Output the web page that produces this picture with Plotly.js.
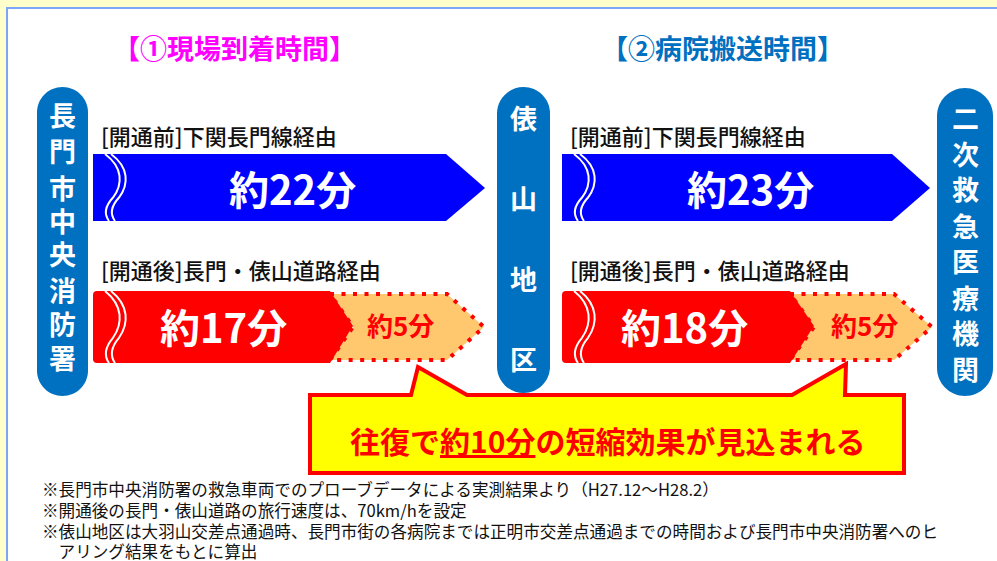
<!DOCTYPE html>
<html>
<head>
<meta charset="utf-8">
<script src="https://cdn.plot.ly/plotly-3.0.1.min.js"></script>
<style>html,body{margin:0;padding:0;background:#FFFFCC;}#chart{width:997px;height:561px;}</style>
</head>
<body>
<div id="chart"></div>
<script>
// ---- data ----
const sectionTitles = ['【①現場到着時間】', '【②病院搬送時間】'];
const routeBefore = '[開通前]下関長門線経由';
const routeAfter = '[開通後]長門・俵山道路経由';
const timeBefore = [22, 23];
const timeAfter = [17, 18];
const timeSaved = [5, 5];
const nodeNames = ['長門市中央消防署', '俵山地区', '二次救急医療機関'];
const summaryPre = '往復で';
const summaryKey = '約10分';
const summaryPost = 'の短縮効果が見込まれる';
const notes = [
  '※長門市中央消防署の救急車両でのプローブデータによる実測結果より（H27.12～H28.2）',
  '※開通後の長門・俵山道路の旅行速度は、70km/hを設定',
  '※俵山地区は大羽山交差点通過時、長門市街の各病院までは正明市交差点通過までの時間および長門市中央消防署へのヒ',
  '　アリング結果をもとに算出'
];

// ---- layout geometry (pixel-like axis units) ----
const FONT = '"Noto Sans CJK JP", "Noto Sans", sans-serif';
const titleColors = ['#FF00FF', '#0070C0'];
const titleX = [234, 722];
const secX0 = [93, 562];
const blueEnd = [446, 892], blueTip = [485, 930];
const redEnd = [330, 790], redTip = [353, 814];
const orgEnd = [447, 894], orgTip = [484, 932];
const beforeTxtX = [292, 750], afterTxtX = [223, 684], savedTxtX = [400, 864];
const pills = [
  {x0: 37, x1: 88, y0: 87, y1: 396, cy: [114, 150, 187, 220, 253, 289, 323, 357]},
  {x0: 497, x1: 550, y0: 87, y1: 393, cy: [117, 197, 278, 358]},
  {x0: 937, x1: 993, y0: 88, y1: 396, cy: [117, 153, 188, 225, 260, 297, 332, 368]}
];

const shapes = [];
const ann = [];

// panel
shapes.push({type: 'rect', xref: 'x', yref: 'y', x0: 7, y0: 8, x1: 1010, y1: 580,
  fillcolor: '#FFFFFF', line: {color: '#7EA6F8', width: 2}, layer: 'below'});

function pillPath(x0, x1, y0, y1) {
  const r = (x1 - x0) / 2, k = 0.5523 * r, cx = (x0 + x1) / 2;
  return `M${x0},${y0 + r} C${x0},${y0 + r - k} ${cx - k},${y0} ${cx},${y0} ` +
    `C${cx + k},${y0} ${x1},${y0 + r - k} ${x1},${y0 + r} L${x1},${y1 - r} ` +
    `C${x1},${y1 - r + k} ${cx + k},${y1} ${cx},${y1} C${cx - k},${y1} ${x0},${y1 - r + k} ${x0},${y1 - r} Z`;
}

pills.forEach((p, i) => {
  shapes.push({type: 'path', xref: 'x', yref: 'y', path: pillPath(p.x0, p.x1, p.y0, p.y1),
    fillcolor: '#0070C0', line: {width: 0}});
  const chars = Array.from(nodeNames[i]);
  chars.forEach((c, j) => {
    ann.push({x: (p.x0 + p.x1) / 2, y: p.cy[j], xref: 'x', yref: 'y', text: c, showarrow: false,
      xanchor: 'center', yanchor: 'middle',
      font: {family: FONT, size: 27, color: '#FFFFFF', weight: 'bold'}});
  });
});

function wave(x0, y0, y1, dx) {
  const h = y1 - y0;
  const a = x0 + dx;
  return `M${a + 12},${y0} C${a + 30},${y0 + 0.2 * h} ${a + 30},${y0 + 0.45 * h} ${a + 20},${y0 + 0.65 * h} ` +
    `C${a + 12},${y0 + 0.78 * h} ${a + 11},${y0 + 0.9 * h} ${a + 16},${y1}`;
}

for (let s = 0; s < 2; s++) {
  const x0 = secX0[s];
  // section title
  ann.push({x: titleX[s], y: 47, xref: 'x', yref: 'y', text: sectionTitles[s], showarrow: false,
    xanchor: 'center', yanchor: 'middle', font: {family: FONT, size: 27, color: titleColors[s], weight: 'bold'}});
  // route labels
  ann.push({x: x0 + 6, y: 135, xref: 'x', yref: 'y', text: routeBefore, showarrow: false,
    xanchor: 'left', yanchor: 'middle', font: {family: FONT, size: 22, color: '#111111', weight: 500}});
  ann.push({x: x0 + 6, y: 269, xref: 'x', yref: 'y', text: routeAfter, showarrow: false,
    xanchor: 'left', yanchor: 'middle', font: {family: FONT, size: 22, color: '#111111', weight: 500}});

  // blue arrow (before)
  const bt = 154, bb = 221, bm = 188;
  shapes.push({type: 'path', xref: 'x', yref: 'y',
    path: `M${x0},${bt} L${blueEnd[s]},${bt} L${blueTip[s]},${bm} L${blueEnd[s]},${bb} L${x0},${bb} Z`,
    fillcolor: '#0000FF', line: {width: 0}});
  [0, 6].forEach(dx => shapes.push({type: 'path', xref: 'x', yref: 'y', path: wave(x0, bt, bb, dx),
    line: {color: '#FFFFFF', width: 2}}));
  ann.push({x: beforeTxtX[s], y: bm, xref: 'x', yref: 'y', text: '約' + timeBefore[s] + '分', showarrow: false,
    xanchor: 'center', yanchor: 'middle', font: {family: FONT, size: 40, color: '#FFFFFF', weight: 'bold'}});

  // orange dotted arrow (saved)
  const ot = 294, ob = 360, om = 327;
  shapes.push({type: 'path', xref: 'x', yref: 'y',
    path: `M${redEnd[s]},${ot} L${orgEnd[s]},${ot} L${orgTip[s]},${om} L${orgEnd[s]},${ob} L${redEnd[s]},${ob} L${redTip[s]},${om} Z`,
    fillcolor: '#FFC86E', line: {color: '#FF0000', width: 4, dash: '4px,7.5px'}});
  // red arrow (after)
  const rt = 291, rb = 363, rm = 326;
  shapes.push({type: 'path', xref: 'x', yref: 'y',
    path: `M${x0 + 4},${rt} L${redEnd[s]},${rt} L${redTip[s]},${rm} L${redEnd[s]},${rb} L${x0 + 4},${rb} Q${x0},${rb} ${x0},${rb - 4} L${x0},${rt + 4} Q${x0},${rt} ${x0 + 4},${rt} Z`,
    fillcolor: '#FF0000', line: {width: 0}});
  [0, 6].forEach(dx => shapes.push({type: 'path', xref: 'x', yref: 'y', path: wave(x0, rt, rb, dx),
    line: {color: '#FFFFFF', width: 2}}));
  ann.push({x: afterTxtX[s], y: rm, xref: 'x', yref: 'y', text: '約' + timeAfter[s] + '分', showarrow: false,
    xanchor: 'center', yanchor: 'middle', font: {family: FONT, size: 40, color: '#FFFFFF', weight: 'bold'}});
  ann.push({x: savedTxtX[s], y: 324, xref: 'x', yref: 'y', text: '約' + timeSaved[s] + '分', showarrow: false,
    xanchor: 'center', yanchor: 'middle', font: {family: FONT, size: 26, color: '#FF0000', weight: 'bold'}});
}

// callout
shapes.push({type: 'path', xref: 'x', yref: 'y',
  path: 'M310,395 L411,395 L418,367 L467,395 L792,395 L846,364 L845,395 L904,395 L904,473 L310,473 Z',
  fillcolor: '#FFFF00', line: {color: '#FF0000', width: 4}});
ann.push({x: 607, y: 440, xref: 'x', yref: 'y',
  text: summaryPre + '<u>' + summaryKey + '</u>' + summaryPost, showarrow: false,
  xanchor: 'center', yanchor: 'middle', font: {family: FONT, size: 30, color: '#FF0000', weight: 'bold'}});

// notes
const noteY = [489, 510, 531, 551];
notes.forEach((t, i) => {
  ann.push({x: 40, y: noteY[i], xref: 'x', yref: 'y', text: t, showarrow: false,
    xanchor: 'left', yanchor: 'middle', font: {family: FONT, size: 16.6, color: '#111111'}});
});

const layout = {
  width: 997, height: 561,
  margin: {l: 0, r: 0, t: 0, b: 0},
  paper_bgcolor: '#FFFFCC', plot_bgcolor: 'rgba(0,0,0,0)',
  xaxis: {range: [0, 997], visible: false, fixedrange: true},
  yaxis: {range: [561, 0], visible: false, fixedrange: true},
  showlegend: false,
  shapes: shapes,
  annotations: ann
};

Plotly.newPlot('chart', [], layout, {staticPlot: true, displayModeBar: false});
</script>
</body>
</html>
